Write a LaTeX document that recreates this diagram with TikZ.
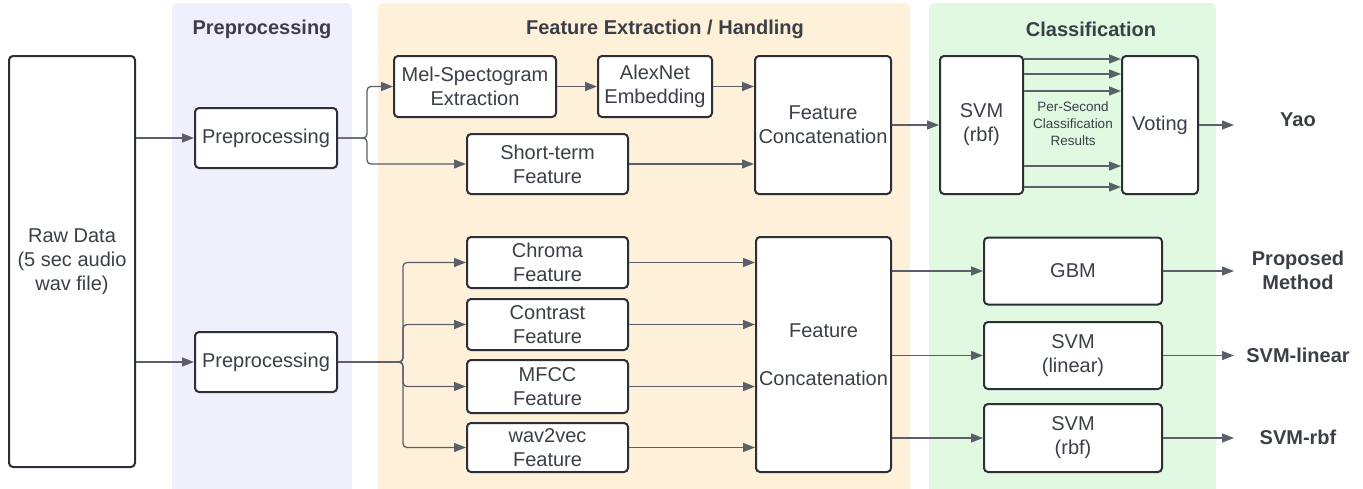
\documentclass[tikz,border=0pt]{standalone}
\usepackage{fontspec}
\setmainfont{Liberation Sans}
\usetikzlibrary{arrows.meta}
\definecolor{ink}{HTML}{3A3F48}
\definecolor{edge}{HTML}{2B2F36}
\definecolor{wire}{HTML}{5A5F69}
\definecolor{lanepre}{HTML}{F0F0FC}
\definecolor{lanefeat}{HTML}{FFF1D9}
\definecolor{lanecls}{HTML}{E1F9E1}

\begin{document}
\begin{tikzpicture}[x=1pt,y=-1pt,
    box/.style={draw=edge,line width=2pt,fill=white,rounded corners=4pt,align=center,
      text=ink,inner sep=0pt,font=\fontsize{20}{24}\selectfont},
    arr/.style={draw=wire,line width=1.3pt,-{Triangle[length=12pt,width=9pt]}},
    head/.style={text=ink,align=center,font=\fontsize{20}{24}\selectfont\bfseries}]

            \useasboundingbox (0,0) rectangle (1363,488);

            \fill[lanepre,rounded corners=6pt] (172,3) rectangle (352,500);
            \fill[lanefeat,rounded corners=6pt] (378,3) rectangle (910,500);
            \fill[lanecls,rounded corners=6pt] (929,3) rectangle (1216,500);
            \node[head] (hpre) at (262,29) {Preprocessing};
            \node[head] (hfeat) at (665,29) {Feature Extraction / Handling};
            \node[head] (hcls) at (1091,29) {Classification};

            \node[box,minimum width=126pt,minimum height=411pt] (raw) at (72,261.5) {Raw Data\\(5 sec audio\\wav file)};
            \node[box,minimum width=142pt,minimum height=60pt] (pre1) at (266,138) {Preprocessing};
            \node[box,minimum width=142pt,minimum height=60pt] (pre2) at (266,362) {Preprocessing};

            \node[box,minimum width=162pt,minimum height=61pt] (mel) at (475,86.5) {Mel-Spectogram\\Extraction};
            \node[box,minimum width=114pt,minimum height=61pt] (alex) at (655,86.5) {AlexNet\\Embedding};
            \node[box,minimum width=161pt,minimum height=60pt] (short) at (547.5,164) {Short-term\\Feature};
            \node[box,minimum width=136pt,minimum height=138pt] (cat1) at (823,125) {Feature\\Concatenation};

            \foreach \n/\t/\y/\h in {chroma/Chroma/262.5/51,contrast/Contrast/324.5/51,mfcc/MFCC/386.5/53,wav/wav2vec/447.5/49}{
              \node[box,minimum width=161pt,minimum height=\h pt] (\n) at (547.5,\y) {\t\\Feature};
            }
            \node[box,minimum width=135pt,minimum height=235pt] (cat2) at (823.5,354.5) {Feature\\[24pt]Concatenation};

            \node[box,minimum width=83pt,minimum height=138pt] (svm) at (981.5,125) {SVM\\(rbf)};
            \node[box,minimum width=76pt,minimum height=138pt] (vote) at (1160,125) {Voting};
            \node[text=ink,align=center,font=\fontsize{13.5}{17}\selectfont] (persec) at (1073,124) {Per-Second\\Classification\\Results};

            \node[box,minimum width=178pt,minimum height=67pt] (gbm) at (1073,271) {GBM};
            \node[box,minimum width=178pt,minimum height=67pt] (svml) at (1073,355.5) {SVM\\(linear)};
            \node[box,minimum width=178pt,minimum height=68pt] (svmr) at (1073,438) {SVM\\(rbf)};

            \coordinate (outx) at (1234,0);
            \node[head] (yao) at (1298,120) {Yao};
            \node[head] (prop) at (1298,270) {Proposed\\Method};
            \node[head] (lin) at (1298,355) {SVM-linear};
            \node[head] (rbf) at (1298,437) {SVM-rbf};

            \draw[arr] (raw.east |- pre1) -- (pre1);
            \draw[arr] (raw.east |- pre2) -- (pre2);

            \draw[arr,rounded corners=4pt] (pre1.east) -- ++(29,0) |- (mel.west);
            \draw[arr,rounded corners=4pt] (pre1.east) -- ++(29,0) |- (short.west);
            \draw[arr] (mel) -- (alex);
            \draw[arr] (alex) -- (alex -| cat1.west);
            \draw[arr] (short) -- (short -| cat1.west);
            \draw[arr] (cat1) -- (svm);
            \foreach \y in {59,74,91,166,187}{
              \draw[arr] (svm.east |- 0,\y) -- (vote.west |- 0,\y);
            }
            \draw[arr] (vote) -- (vote -| outx);

            \foreach \n in {chroma,contrast,mfcc,wav}{
              \draw[arr,rounded corners=4pt] (pre2.east) -- ++(65,0) |- (\n.west);
              \draw[arr] (\n) -- (\n -| cat2.west);
            }
            \foreach \n in {gbm,svml,svmr}{
              \draw[arr] (cat2.east |- \n) -- (\n);
              \draw[arr] (\n) -- (\n -| outx);
            }
\end{tikzpicture}
\end{document}
